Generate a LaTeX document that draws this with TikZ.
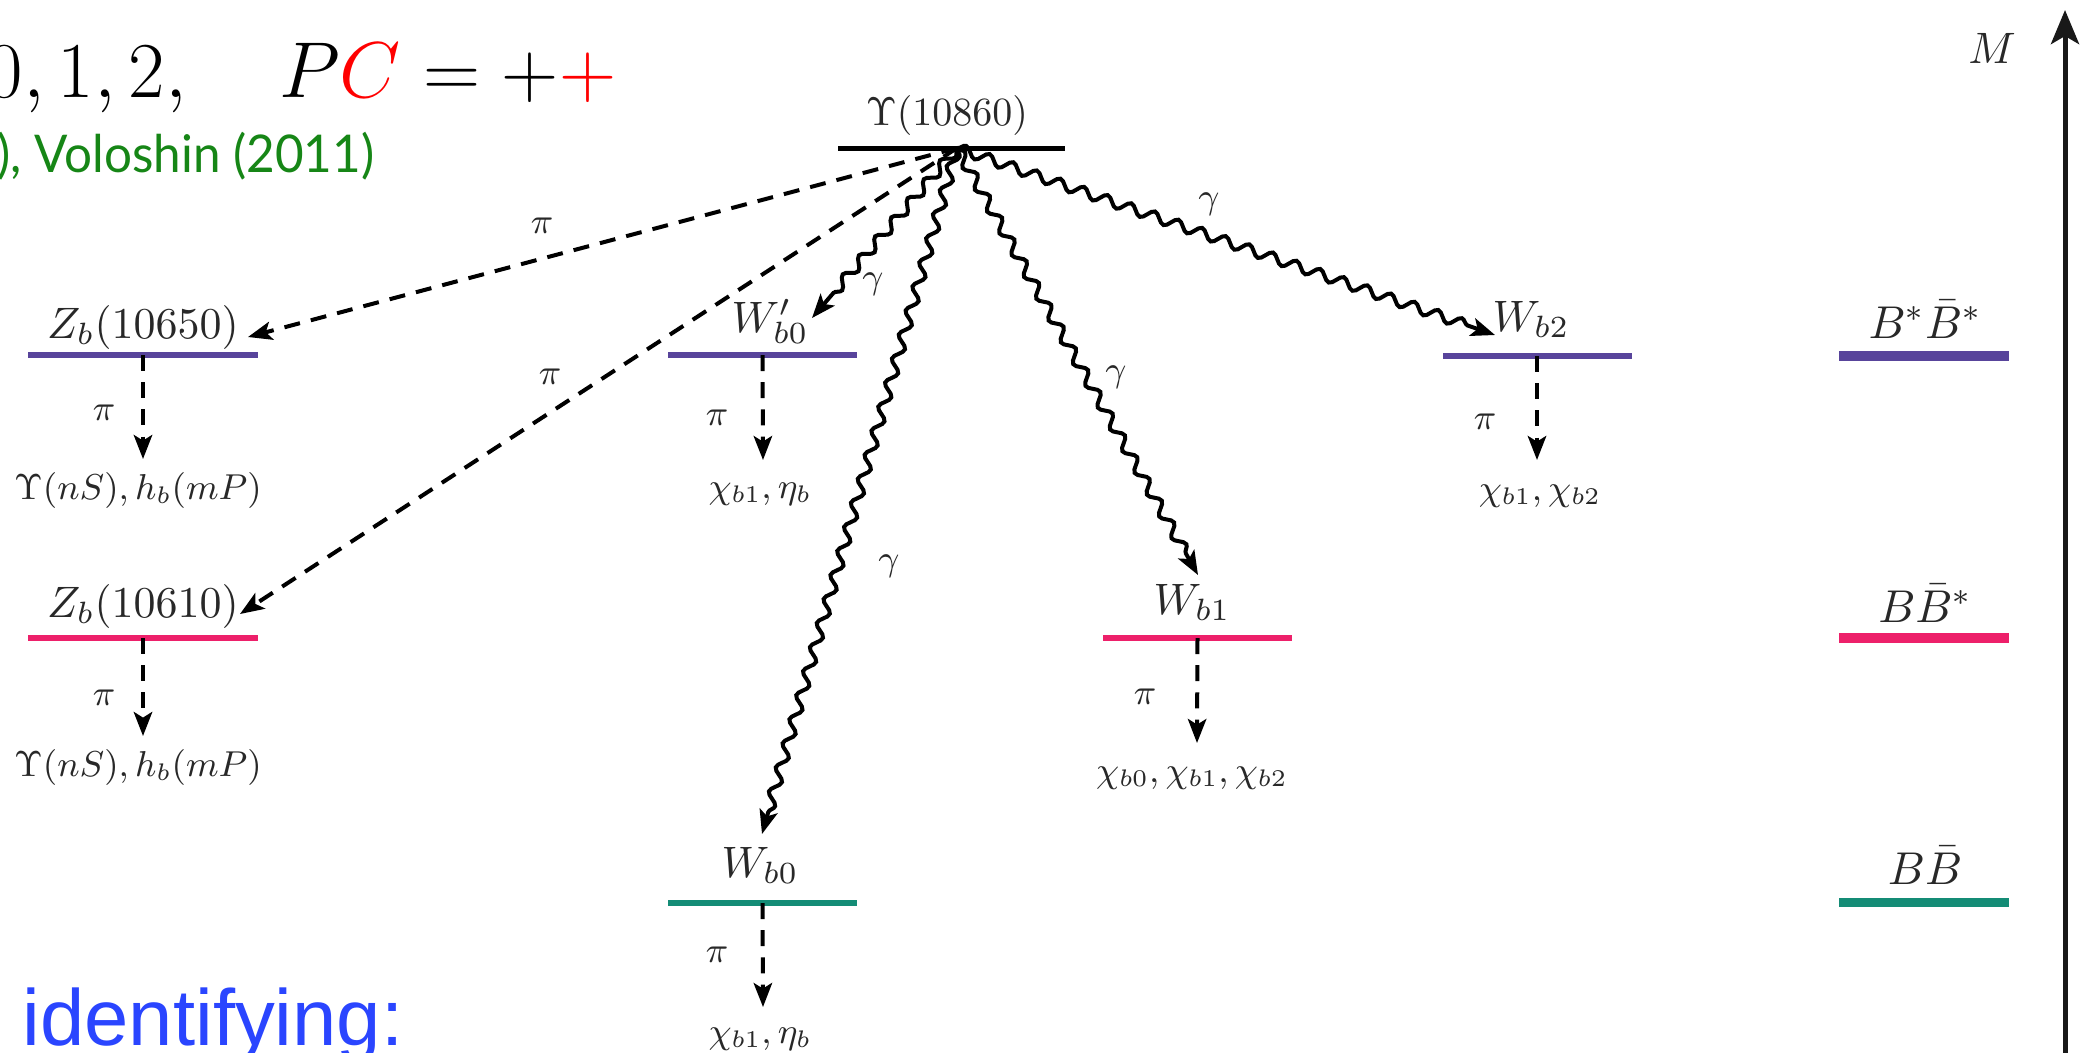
\RequirePackage{fix-cm}
\documentclass[tikz,border=0pt]{standalone}
\usepackage{fontspec}
\newfontfamily\greenfont[FakeStretch=0.95]{Lato}
\newfontfamily\bluefont{Liberation Sans}
\usetikzlibrary{arrows.meta,decorations.pathmorphing}
\definecolor{purp}{RGB}{88,68,155}
\definecolor{pinkc}{RGB}{237,32,106}
\definecolor{tealc}{RGB}{20,140,118}
\definecolor{greenc}{RGB}{22,134,22}
\definecolor{bluec}{RGB}{42,69,255}
\definecolor{lblc}{RGB}{40,40,40}
\begin{document}
\begin{tikzpicture}[x=0.25pt,y=-0.25pt,
  lvl/.style={rectangle,inner sep=0pt,minimum height=1.4pt,minimum width=47.25pt},
  thr/.style={rectangle,inner sep=0pt,minimum height=2.3pt,minimum width=42.5pt},
  lbl/.style={anchor=base,inner sep=0pt,text=lblc,font=\fontsize{11}{13}\selectfont},
  lblR/.style={anchor=base,inner sep=0pt,text=lblc,font=\fontsize{11.5}{14}\selectfont},
  sml/.style={anchor=base,inner sep=0pt,text=lblc,font=\fontsize{9}{11}\selectfont},
  pil/.style={inner sep=0pt,text=lblc,font=\fontsize{9}{11}\selectfont},
  tipA/.tip={Stealth[length=6pt,width=4.6pt,inset=1.4pt]},
  pion/.style={line width=1pt,dash pattern=on 4pt off 2.8pt,-tipA},
  phot/.style={line width=1pt,-tipA,decorate,
    decoration={snake,amplitude=1.25pt,segment length=6.25pt,post length=5.5pt}},
]
\useasboundingbox (0,0) rectangle (2088,1052);
\fill[white] (0,0) rectangle (2088,1052);

% header texts
\node[anchor=base west,inner sep=0pt,font=\fontsize{19.8}{23}\selectfont] (head) at (-14,97)
  {$0,1,2,\quad P{\color{red}C}=+{\color{red}+}$};
\node[anchor=base east,inner sep=0pt,text=greenc,font=\greenfont\fontsize{13}{16}\selectfont] (ref) at (375,172)
  {), Voloshin (2011)};
\node[anchor=base west,inner sep=0pt,text=bluec,font=\bluefont\fontsize{19.9}{24}\selectfont] (ident) at (22,1045)
  {identifying:};

% levels
\node[lvl,fill=black,minimum width=56.75pt,minimum height=1.25pt] (U) at (951.5,148) {};
\node[lvl,fill=purp,minimum width=57.5pt] (Zb1) at (143,355) {};
\node[lvl,fill=pinkc,minimum width=57.5pt] (Zb2) at (143,638) {};
\node[lvl,fill=purp] (Wp) at (762.5,355) {};
\node[lvl,fill=purp] (Wb2) at (1537,356) {};
\node[lvl,fill=pinkc] (Wb1) at (1197.5,638) {};
\node[lvl,fill=tealc] (Wb0) at (762.5,903) {};
\node[thr,fill=purp] (R1) at (1924,356) {};
\node[thr,fill=pinkc] (R2) at (1924,638) {};
\node[thr,fill=tealc] (R3) at (1924,902.5) {};

% level labels
\node[lbl,font=\fontsize{10}{12}\selectfont] (Ul) at (947,125) {$\Upsilon(10860)$};
\node[lbl] (Zb1l) at (143,338) {$Z_b(10650)$};
\node[lbl] (Zb2l) at (143,617) {$Z_b(10610)$};
\node[lbl] (Wpl) at (770,332) {$W'_{b0}$};
\node[lbl] (Wb2l) at (1531,331) {$W_{b2}$};
\node[lbl] (Wb1l) at (1192,614) {$W_{b1}$};
\node[lbl] (Wb0l) at (760,877) {$W_{b0}$};
\node[lblR] (R1l) at (1925,338) {$B^*\bar B^*$};
\node[lblR] (R2l) at (1925,622) {$B\bar B^*$};
\node[lblR] (R3l) at (1925,884) {$B\bar B$};
\node[lbl] (Ml) at (1992,63) {$M$};

% decay products
\node[sml] (Zb1t) at (138,499) {$\Upsilon(nS), h_b(mP)$};
\node[sml] (Zb2t) at (138,776) {$\Upsilon(nS), h_b(mP)$};
\node[sml] (Wpt) at (760,498) {$\chi_{b1}, \eta_b$};
\node[sml] (Wb2t) at (1540,500) {$\chi_{b1}, \chi_{b2}$};
\node[sml] (Wb1t) at (1192,782) {$\chi_{b0}, \chi_{b1}, \chi_{b2}$};
\node[sml] (Wb0t) at (760,1043) {$\chi_{b1}, \eta_b$};

% connector end points
\coordinate (O) at (957,148);
\coordinate (tZb1) at (248,337);
\coordinate (tZb2) at (240,614);
\coordinate (tWp) at (812,318);
\coordinate (tWb0) at (762,834);
\coordinate (tWb1) at (1198,575);
\coordinate (tWb2) at (1495,335);
\coordinate (dZb1) at (143,459);
\coordinate (dZb2) at (143,736);
\coordinate (dWp) at (763,460);
\coordinate (dWb2) at (1537,460);
\coordinate (dWb1) at (1197,743);
\coordinate (dWb0) at (763,1007);

% pion transitions from Upsilon
\draw[pion] (O) -- (tZb1);
\draw[pion] (O) -- (tZb2);
\node[pil] (p1) at (542,226) {$\pi$};
\node[pil] (p2) at (550,377) {$\pi$};

% photon transitions
\draw[phot] (O) -- (tWp);
\draw[phot] (O) -- (tWb0);
\draw[phot] (O) -- (tWb1);
\draw[phot] (O) -- (tWb2);
\node[pil] (g1) at (873,284) {$\gamma$};
\node[pil] (g2) at (889,566) {$\gamma$};
\node[pil] (g3) at (1116,377) {$\gamma$};
\node[pil] (g4) at (1209,204) {$\gamma$};

% vertical pion decays
\draw[pion] (Zb1.center) -- (dZb1);
\draw[pion] (Zb2.center) -- (dZb2);
\draw[pion] (Wp.center) -- (dWp);
\draw[pion] (Wb2.center) -- (dWb2);
\draw[pion] (Wb1.center) -- (dWb1);
\draw[pion] (Wb0.center) -- (dWb0);
\node[pil] (p3) at (104,413) {$\pi$};
\node[pil] (p4) at (104,698) {$\pi$};
\node[pil] (p5) at (717,418) {$\pi$};
\node[pil] (p6) at (1485,422) {$\pi$};
\node[pil] (p7) at (1145,697) {$\pi$};
\node[pil] (p8) at (717,955) {$\pi$};

% mass axis
\coordinate (axb) at (2065,1060);
\coordinate (axt) at (2065,10);
\draw[line width=1.25pt,black!90,-{Stealth[length=8.5pt,width=7pt,inset=2pt]}] (axb) -- (axt);
\end{tikzpicture}
\end{document}
